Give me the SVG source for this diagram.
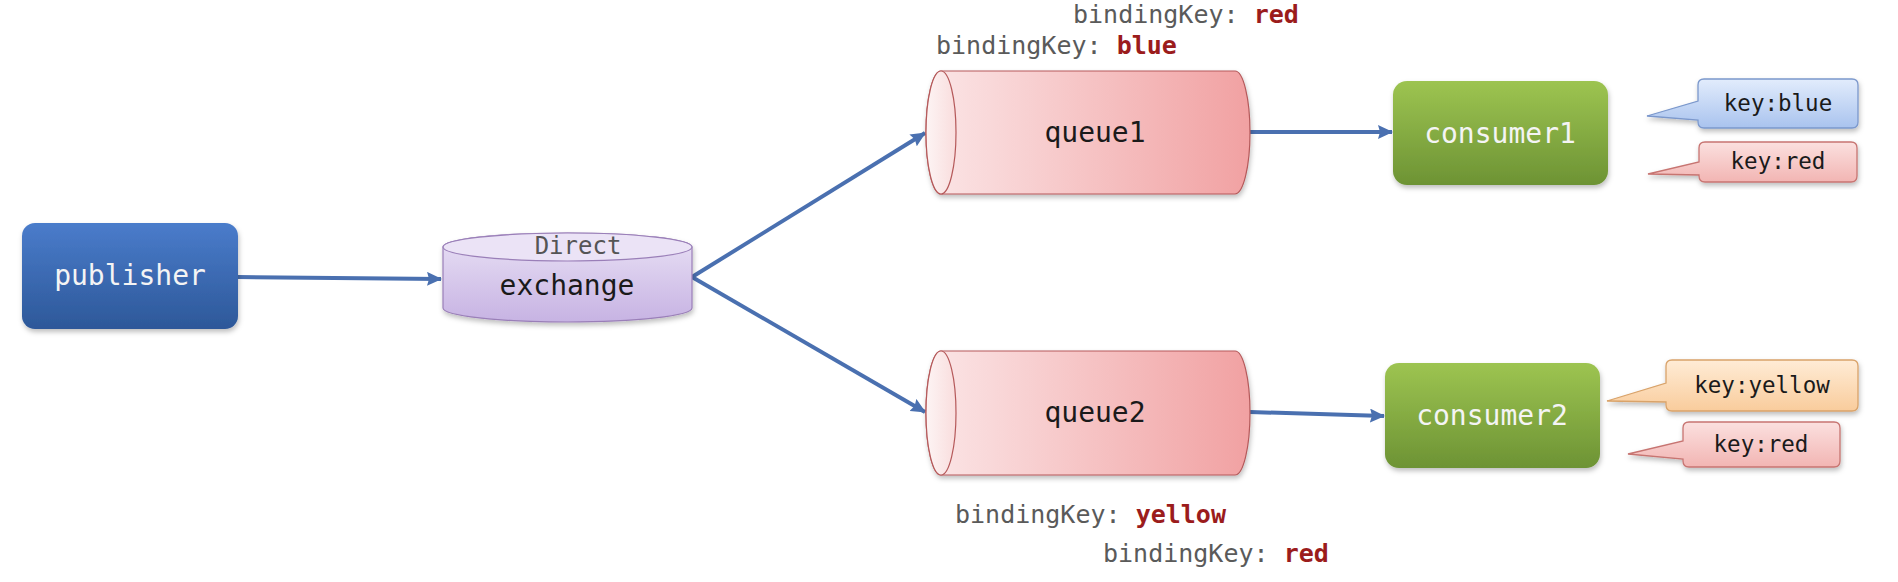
<svg xmlns="http://www.w3.org/2000/svg" width="1898" height="582" viewBox="0 0 1898 582">
<defs>
<linearGradient id="gBlue" x1="0" y1="0" x2="0" y2="1"><stop offset="0" stop-color="#4a7ccb"/><stop offset="1" stop-color="#2d5899"/></linearGradient>
<linearGradient id="gPurple" x1="0" y1="0" x2="0" y2="1"><stop offset="0" stop-color="#e9e1f5"/><stop offset="1" stop-color="#c7b3e3"/></linearGradient>
<linearGradient id="gQueue" x1="0" y1="0" x2="1" y2="0"><stop offset="0" stop-color="#fbe6e7"/><stop offset="1" stop-color="#f1a1a2"/></linearGradient>
<linearGradient id="gFace" x1="0" y1="0" x2="1" y2="0"><stop offset="0" stop-color="#fdf4f4"/><stop offset="1" stop-color="#f9dddd"/></linearGradient>
<linearGradient id="gGreen" x1="0" y1="0" x2="0" y2="1"><stop offset="0" stop-color="#9dc451"/><stop offset="1" stop-color="#6d9334"/></linearGradient>
<linearGradient id="gCBlue" x1="0" y1="0" x2="0" y2="1"><stop offset="0" stop-color="#e2ecfc"/><stop offset="1" stop-color="#a9c3ee"/></linearGradient>
<linearGradient id="gCRed" x1="0" y1="0" x2="0" y2="1"><stop offset="0" stop-color="#fbe0df"/><stop offset="1" stop-color="#f2b5b3"/></linearGradient>
<linearGradient id="gCOrange" x1="0" y1="0" x2="0" y2="1"><stop offset="0" stop-color="#ffecd6"/><stop offset="1" stop-color="#f9cc9c"/></linearGradient>
<filter id="sh" x="-10%" y="-10%" width="120%" height="130%"><feDropShadow dx="1" dy="3" stdDeviation="2.5" flood-color="#000" flood-opacity="0.25"/></filter>
<marker id="arr" markerUnits="userSpaceOnUse" markerWidth="15" markerHeight="14" refX="14" refY="7" orient="auto"><path d="M0,0 L15,7 L0,14 L2,7 Z" fill="#4a70b0"/></marker>
<style>
.mono{font-family:"DejaVu Sans Mono","Liberation Mono",monospace;}
.node{font-size:28px;text-anchor:middle;}
.white{fill:#f4f4f4;}
.dark{fill:#1a1a1a;}
.bk{font-size:25px;fill:#5a5a5a;}
.val{font-weight:bold;fill:#9b1c1c;}
.key{font-size:22.5px;text-anchor:middle;fill:#1a1a1a;}
.conn{stroke:#4a70b0;stroke-width:4;fill:none;marker-end:url(#arr);}
</style>
</defs>
<rect width="1898" height="582" fill="#ffffff"/>

<g id="connectors">
<line class="conn" x1="238" y1="277" x2="441" y2="279"/>
<line class="conn" x1="692" y1="277" x2="925" y2="133"/>
<line class="conn" x1="692" y1="277" x2="925" y2="412"/>
<line class="conn" x1="1250" y1="132" x2="1392" y2="132"/>
<line class="conn" x1="1250" y1="412" x2="1384" y2="416"/>
</g>

<g id="publisher">
<rect x="22" y="223" width="216" height="106" rx="13" fill="url(#gBlue)" filter="url(#sh)"/>
<text class="mono node white" x="130" y="285">publisher</text>
</g>

<g id="exchange">
<path d="M443,247 A124.5,14 0 0 1 692,247 L692,308 A124.5,14 0 0 1 443,308 Z" fill="url(#gPurple)" stroke="#9a7fb8" stroke-width="1.2" filter="url(#sh)"/>
<ellipse cx="567.5" cy="247" rx="124.5" ry="14" fill="#ebe3f6" stroke="#9a7fb8" stroke-width="1.2"/>
<text class="mono" x="578" y="254" font-size="24" text-anchor="middle" fill="#555555">Direct</text>
<text class="mono node dark" x="567" y="295">exchange</text>
</g>

<g id="queue1">
<path d="M941,71 L1235,71 A15,61.5 0 0 1 1235,194 L941,194 A15,61.5 0 0 1 941,71 Z" fill="url(#gQueue)" stroke="#b5595a" stroke-width="1.2" filter="url(#sh)"/>
<ellipse cx="941" cy="132.5" rx="15" ry="61.5" fill="url(#gFace)" stroke="#b5595a" stroke-width="1.2"/>
<text class="mono node dark" x="1095" y="142">queue1</text>
</g>

<g id="queue2">
<path d="M941,351 L1235,351 A15,62 0 0 1 1235,475 L941,475 A15,62 0 0 1 941,351 Z" fill="url(#gQueue)" stroke="#b5595a" stroke-width="1.2" filter="url(#sh)"/>
<ellipse cx="941" cy="413" rx="15" ry="62" fill="url(#gFace)" stroke="#b5595a" stroke-width="1.2"/>
<text class="mono node dark" x="1095" y="422">queue2</text>
</g>

<g id="consumer1">
<rect x="1393" y="81" width="215" height="104" rx="14" fill="url(#gGreen)" filter="url(#sh)"/>
<text class="mono node white" x="1500" y="143">consumer1</text>
</g>

<g id="consumer2">
<rect x="1385" y="363" width="215" height="105" rx="14" fill="url(#gGreen)" filter="url(#sh)"/>
<text class="mono node white" x="1492" y="425">consumer2</text>
</g>

<g id="labels">
<text class="mono bk" x="1073" y="23">bindingKey: <tspan class="val">red</tspan></text>
<text class="mono bk" x="936" y="54">bindingKey: <tspan class="val">blue</tspan></text>
<text class="mono bk" x="955" y="523">bindingKey: <tspan class="val">yellow</tspan></text>
<text class="mono bk" x="1103" y="562">bindingKey: <tspan class="val">red</tspan></text>
</g>

<g id="callout-c1-blue">
<path d="M1704,79 L1852,79 Q1858,79 1858,85 L1858,122 Q1858,128 1852,128 L1704,128 Q1698,128 1698,122 L1698,120 L1647,116 L1698,101 L1698,85 Q1698,79 1704,79 Z" fill="url(#gCBlue)" stroke="#7b98cc" stroke-width="1.3" filter="url(#sh)"/>
<text class="mono key" x="1778" y="111">key:blue</text>
</g>

<g id="callout-c1-red">
<path d="M1705,142 L1851,142 Q1857,142 1857,148 L1857,176 Q1857,182 1851,182 L1705,182 Q1699,182 1699,176 L1699,175 L1648,174 L1699,162 L1699,148 Q1699,142 1705,142 Z" fill="url(#gCRed)" stroke="#c77471" stroke-width="1.3" filter="url(#sh)"/>
<text class="mono key" x="1778" y="169">key:red</text>
</g>

<g id="callout-c2-yellow">
<path d="M1672,360 L1852,360 Q1858,360 1858,366 L1858,405 Q1858,411 1852,411 L1672,411 Q1666,411 1666,405 L1666,402 L1607,401 L1666,383 L1666,366 Q1666,360 1672,360 Z" fill="url(#gCOrange)" stroke="#d9a36a" stroke-width="1.3" filter="url(#sh)"/>
<text class="mono key" x="1762" y="393">key:yellow</text>
</g>

<g id="callout-c2-red">
<path d="M1689,422 L1834,422 Q1840,422 1840,428 L1840,461 Q1840,467 1834,467 L1689,467 Q1683,467 1683,461 L1683,459 L1628,454 L1683,441 L1683,428 Q1683,422 1689,422 Z" fill="url(#gCRed)" stroke="#c77471" stroke-width="1.3" filter="url(#sh)"/>
<text class="mono key" x="1761" y="452">key:red</text>
</g>
</svg>
